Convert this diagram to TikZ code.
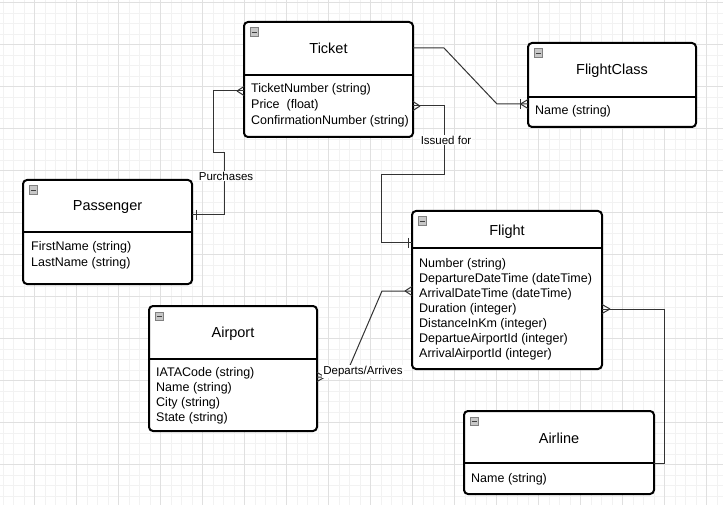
\documentclass[tikz,border=0pt]{standalone}
\usepackage{fontspec}
\setmainfont{Liberation Sans}
\tikzset{
  gridminor/.style={draw=black!5, line width=0.6pt},
  gridmajor/.style={draw=black!12, line width=0.6pt},
  entbox/.style={draw=black, line width=2pt, fill=white, rounded corners=4pt, inner sep=0pt, outer sep=0pt, anchor=north west},
  divline/.style={draw=black, line width=2pt},
  titletext/.style={font=\fontsize{14.5}{17}\selectfont, inner sep=0pt, yshift=-1.5pt},
  attrtext/.style={font=\fontsize{12.5}{15}\selectfont, inner sep=0pt, anchor=west, text height=9pt, text depth=2.5pt, yshift=-1.5pt},
  iconbox/.style={draw=black!50, fill=black!22, minimum size=8.5pt, inner sep=0pt, line width=0.8pt, anchor=north west},
  iconminus/.style={draw=black!75, line width=1.2pt},
  conn/.style={draw=black!80, line width=1pt},
  cmark/.style={draw=black!80, line width=1pt},
  lbl/.style={font=\fontsize{11.5}{14}\selectfont, fill=white, inner sep=1pt}
}
\newcommand{\erbox}[8]{%
  \node[entbox, minimum width={#4pt-#2pt}, minimum height={#5pt-#3pt}] (#1) at (#2,#3) {};
  \draw[divline] (#1.west |- 0,#6) -- (#1.east |- 0,#6);
  \node[titletext] (#1-title) at ({(#2+#4)/2},#8) {#7};
  \node[iconbox] (#1-icon) at (#2+5.5,#3+5.5) {};
  \draw[iconminus] ([xshift=-2.6pt]#1-icon.center) -- ([xshift=2.6pt]#1-icon.center);
}
\newcommand{\erattr}[4]{\node[attrtext] (#1) at ({#2},{#3}) {#4};}
% crow's foot: tip x, y, box-edge x
\newcommand{\crowfoot}[3]{\draw[cmark] (#1,#2) -- (#3,#2-4.5) (#1,#2) -- (#3,#2+4.5);}
\newcommand{\onebar}[2]{\draw[cmark] (#1,#2-5) -- (#1,#2+5);}
\begin{document}
\begin{tikzpicture}[x=1pt,y=-1pt]
\useasboundingbox (0,0) rectangle (723,505);
\fill[white] (0,0) rectangle (723,505);
% grid
\foreach \i in {0,...,68} {\draw[gridminor] (2.8+\i*10.5,0) -- (2.8+\i*10.5,505);}
\foreach \i in {0,...,47} {\draw[gridminor] (0,2.7+\i*10.5) -- (723,2.7+\i*10.5);}
\foreach \i in {0,...,16} {\draw[gridmajor] (34.3+\i*42,0) -- (34.3+\i*42,505);}
\foreach \i in {0,...,11} {\draw[gridmajor] (0,2.7+\i*42) -- (723,2.7+\i*42);}

% entities
\erbox{ticket}{244}{22}{413}{137}{75}{Ticket}{47}
\erattr{ticket-a1}{251}{87.3}{TicketNumber (string)}
\erattr{ticket-a2}{251}{103.3}{Price\ \ (float)}
\erattr{ticket-a3}{251}{119.3}{ConfirmationNumber (string)}

\erbox{fclass}{528}{43}{696}{127}{97}{FlightClass}{69}
\erattr{fclass-a1}{535}{110}{Name (string)}

\erbox{passenger}{23}{180}{192}{284}{232}{Passenger}{206}
\erattr{passenger-a1}{31}{246}{FirstName (string)}
\erattr{passenger-a2}{31}{262}{LastName (string)}

\erbox{flight}{412}{211}{602}{369}{248}{Flight}{230}
\foreach [count=\i] \t in {Number (string), DepartureDateTime (dateTime), ArrivalDateTime (dateTime), Duration (integer), DistanceInKm (integer), DepartueAirportId (integer), ArrivalAirportId (integer)} {\erattr{flight-a\i}{419}{263+(\i-1)*15}{\t}}

\erbox{airport}{149}{306}{317}{431}{359}{Airport}{332}
\foreach [count=\i] \t in {IATACode (string), Name (string), City (string), State (string)} {\erattr{airport-a\i}{156}{372+(\i-1)*15}{\t}}

\erbox{airline}{464}{411}{654}{494}{463}{Airline}{437}
\erattr{airline-a1}{471}{478}{Name (string)}

% Ticket -- FlightClass
\draw[conn] (ticket.east |- 0,48) -- (444,48) -- (497,104) -- (fclass.west |- 0,104);
\onebar{520}{104}
\crowfoot{520.5}{104}{528}

% Ticket -- Passenger (Purchases)
\draw[conn] (ticket.west |- 0,91) -- (213,91) -- (213,153) -- (224,153) -- (224,215) -- (passenger.east |- 0,215);
\crowfoot{237}{91}{244}
\onebar{196}{215}
\node[lbl] (lbl-purchases) at (226,176) {Purchases};

% Ticket -- Flight (Issued for)
\draw[conn] (ticket.east |- 0,106) -- (444,106) -- (444,175) -- (381,175) -- (381,243) -- (flight.west |- 0,243);
\crowfoot{420}{106}{413}
\onebar{408}{243}
\node[lbl] (lbl-issued) at (446,140) {Issued for};

% Airport -- Flight (Departs/Arrives)
\draw[conn] (airport.east |- 0,377) -- (345,377) -- (382,291) -- (flight.west |- 0,291);
\crowfoot{405}{291}{412}
\crowfoot{325}{377}{317}
\node[lbl] (lbl-departs) at (363,371.5) {Departs/Arrives};

% Flight -- Airline
\draw[conn] (flight.east |- 0,309) -- (664,309) -- (664,463) -- (airline.east |- 0,463);
\crowfoot{610}{309}{602}
\end{tikzpicture}
\end{document}
